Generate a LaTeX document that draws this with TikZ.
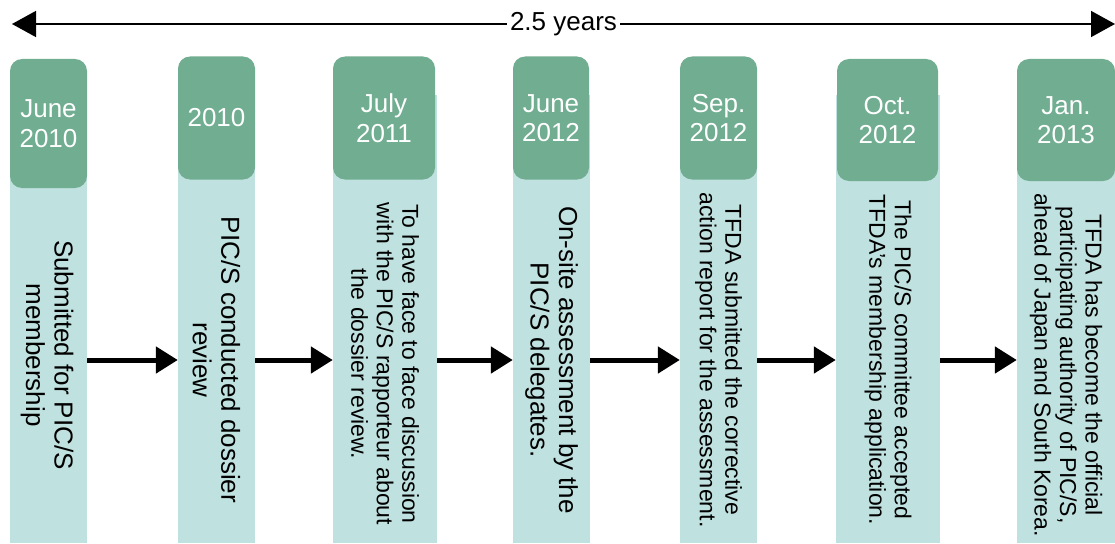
\documentclass[tikz,border=0pt]{standalone}
\usepackage{fontspec}
\setmainfont{Liberation Sans}
\usepackage{xcolor}
\usepackage{tikz}
\usetikzlibrary{positioning,arrows.meta,calc}
\definecolor{TLgreen}{HTML}{70AD91}
\definecolor{TLpale}{HTML}{BFE1DF}
\tikzset{
  stripe/.style={fill=TLpale, draw=none, anchor=north, inner sep=0pt, minimum height=448pt, minimum width=#1},
  datebox/.style={fill=TLgreen, draw=none, rounded corners=12pt, inner sep=0pt, minimum width=#1, minimum height=123pt, align=center, text=white, font=\fontsize{26}{29.5}\selectfont},
  bignote/.style={rotate=-90, align=center, inner sep=0pt, font=\fontsize{26}{28.5}\selectfont},
  smallnote/.style={rotate=-90, align=center, inner sep=0pt, font=\fontsize{23}{25.5}\selectfont},
  steparrow/.style={-{Triangle[length=22pt, width=26pt]}, line width=5pt},
  spanarrow/.style={{Triangle[length=24pt, width=26pt]}-{Triangle[length=24pt, width=26pt]}, line width=1.5pt}
}
\begin{document}
\begin{tikzpicture}[x=1pt, y=-1pt]
\useasboundingbox (0,0) rectangle (1115,543);
% overall time span
\coordinate (tl) at (12,24);
\coordinate (tr) at (1115,24);
\draw[spanarrow] (tl) -- node[fill=white, inner xsep=3pt, font=\fontsize{26}{30}\selectfont] (span) {2.5 years} (tr);
% pale columns
\node[stripe=77pt] (s1) at (48.5,95) {};
\node[stripe=77pt] (s2) at (216.5,95) {};
\node[stripe=104pt] (s3) at (385,95) {};
\node[stripe=77pt] (s4) at (551.5,95) {};
\node[stripe=77pt] (s5) at (718.5,95) {};
\node[stripe=104pt] (s6) at (888,95) {};
\node[stripe=98pt] (s7) at (1066,95) {};
% dates
\node[datebox=77pt, minimum height=129pt] (d1) at (48.5,123.5) {June\\2010};
\node[datebox=77pt] (d2) at (216.5,118) {2010};
\node[datebox=102pt] (d3) at (384,118) {July\\2011};
\node[datebox=76pt] (d4) at (551,118) {June\\2012};
\node[datebox=77pt] (d5) at (718.5,118) {Sep.\\2012};
\node[datebox=101pt, minimum height=122pt] (d6) at (887.5,120) {Oct.\\2012};
\node[datebox=98pt, minimum height=122pt] (d7) at (1066,120) {Jan.\\2013};
% events
\node[bignote] (t1) at (47,355) {Submitted for PIC/S\\membership};
\node[bignote] (t2) at (216.5,360) {PIC/S conducted dossier\\review};
\node[smallnote] (t3) at (385,364) {To have face to face discussion\\with the PIC/S rapporteur about\\the dossier review.};
\node[bignote] (t4) at (551.5,360) {On-site assessment by the\\PIC/S delegates.};
\node[smallnote] (t5) at (718.5,360) {TFDA submitted the corrective\\action report for the assessment.};
\node[smallnote] (t6) at (888,360) {The PIC/S committee accepted\\TFDA’s membership application.};
\node[smallnote] (t7) at (1066,365) {TFDA has become the official\\participating authority of PIC/S,\\ahead of Japan and South Korea.};
% steps
\coordinate (mid) at (0,360);
\draw[steparrow] (s1.east |- mid) -- (s2.west |- mid);
\draw[steparrow] (s2.east |- mid) -- (s3.west |- mid);
\draw[steparrow] (s3.east |- mid) -- (s4.west |- mid);
\draw[steparrow] (s4.east |- mid) -- (s5.west |- mid);
\draw[steparrow] (s5.east |- mid) -- (s6.west |- mid);
\draw[steparrow] (s6.east |- mid) -- (s7.west |- mid);
\end{tikzpicture}
\end{document}
